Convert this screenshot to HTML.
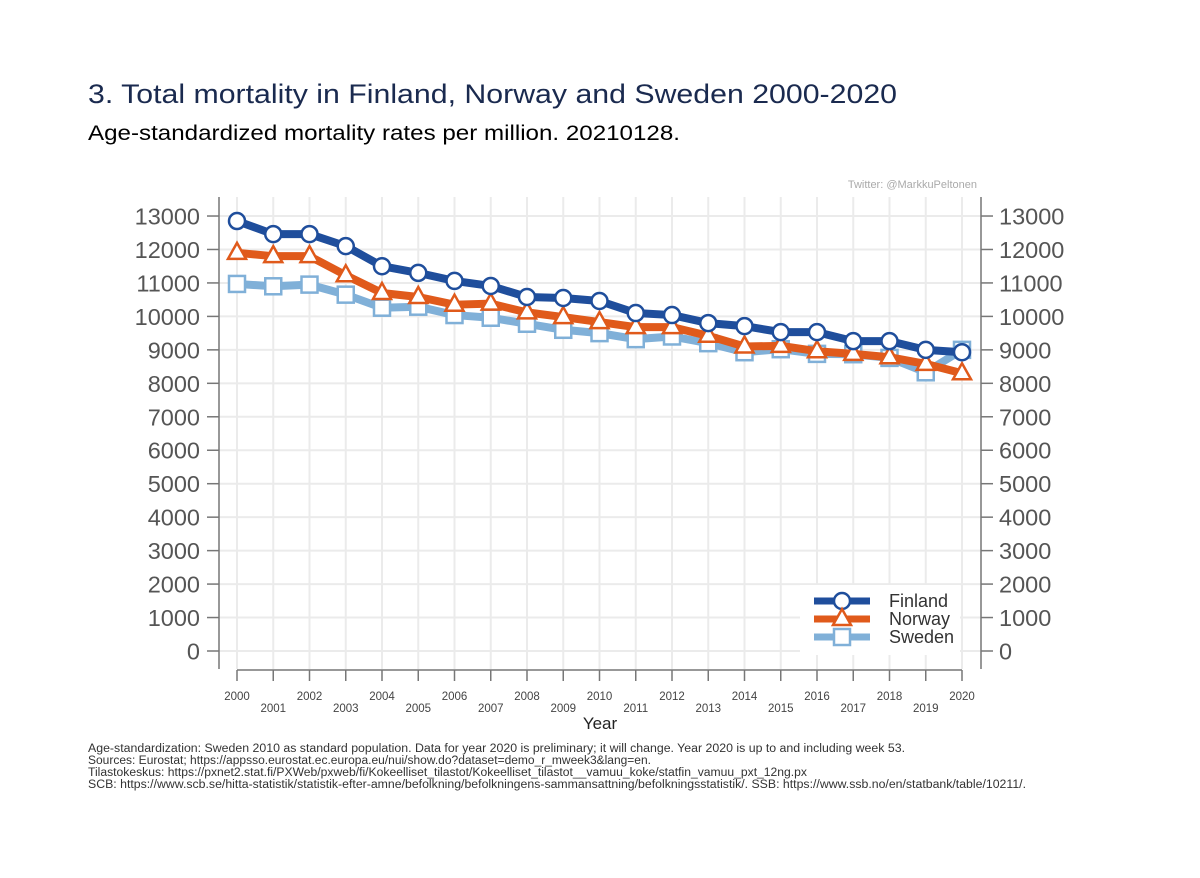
<!DOCTYPE html>
<html><head><meta charset="utf-8"><style>
body{margin:0;background:#fff;width:1200px;height:873px;overflow:hidden;font-family:"Liberation Sans",Arial,sans-serif}
</style></head><body>
<svg id="chart" width="1200" height="873" xmlns="http://www.w3.org/2000/svg" font-family="Liberation Sans, Arial, sans-serif">
<text x="88" y="103" font-size="27" textLength="809" lengthAdjust="spacingAndGlyphs" fill="#1a2a4f">3. Total mortality in Finland, Norway and Sweden 2000-2020</text>
<text x="88" y="140" font-size="21" textLength="592" lengthAdjust="spacingAndGlyphs" fill="#000">Age-standardized mortality rates per million. 20210128.</text>
<text x="977" y="188" font-size="11" fill="#aaa" text-anchor="end">Twitter: @MarkkuPeltonen</text>
<g id="grid"></g><g id="axes"></g><g id="series"></g>
<g id="legend"></g>
<text x="600" y="729" font-size="17" fill="#222" text-anchor="middle">Year</text>
<g font-size="11.5" fill="#333">
<text x="88" y="752" textLength="817" lengthAdjust="spacingAndGlyphs">Age-standardization: Sweden 2010 as standard population. Data for year 2020 is preliminary; it will change. Year 2020 is up to and including week 53.</text>
<text x="88" y="764" textLength="563" lengthAdjust="spacingAndGlyphs">Sources: Eurostat; https://appsso.eurostat.ec.europa.eu/nui/show.do?dataset=demo_r_mweek3&amp;lang=en.</text>
<text x="88" y="776" textLength="719" lengthAdjust="spacingAndGlyphs">Tilastokeskus: https://pxnet2.stat.fi/PXWeb/pxweb/fi/Kokeelliset_tilastot/Kokeelliset_tilastot__vamuu_koke/statfin_vamuu_pxt_12ng.px</text>
<text x="88" y="788" textLength="938" lengthAdjust="spacingAndGlyphs">SCB: https://www.scb.se/hitta-statistik/statistik-efter-amne/befolkning/befolkningens-sammansattning/befolkningsstatistik/. SSB: https://www.ssb.no/en/statbank/table/10211/.</text>
</g>
</svg>
<script>
const years=[2000,2001,2002,2003,2004,2005,2006,2007,2008,2009,2010,2011,2012,2013,2014,2015,2016,2017,2018,2019,2020];
const finland=[12850,12460,12460,12100,11500,11300,11060,10910,10580,10550,10460,10100,10040,9800,9710,9530,9530,9260,9260,9000,8930];
const norway=[11900,11800,11800,11230,10700,10580,10350,10380,10120,9980,9830,9680,9680,9420,9100,9120,8960,8880,8780,8580,8300];
const sweden=[10970,10900,10950,10650,10260,10290,10040,9960,9780,9600,9500,9320,9400,9200,8930,9020,8880,8870,8760,8330,9000];
const yTicks=[0,1000,2000,3000,4000,5000,6000,7000,8000,9000,10000,11000,12000,13000];
const NS='http://www.w3.org/2000/svg';
const X=y=>237+(y-2000)*36.25;
const Y=v=>651-v*0.03346;
function mk(p,t,a){const e=document.createElementNS(NS,t);for(const k in a)e.setAttribute(k,a[k]);p.appendChild(e);return e;}
const g=document.getElementById('grid'),ax=document.getElementById('axes'),s=document.getElementById('series'),lg=document.getElementById('legend');
yTicks.forEach(v=>{
 const l=mk(g,'line',{x1:219,x2:981,y1:Y(v),y2:Y(v),stroke:'#ebebeb','stroke-width':2});
 
 mk(ax,'line',{x1:207,x2:219,y1:Y(v),y2:Y(v),stroke:'#777','stroke-width':1.5});
 mk(ax,'line',{x1:981,x2:993,y1:Y(v),y2:Y(v),stroke:'#777','stroke-width':1.5});
 const t1=mk(ax,'text',{x:200,y:Y(v)+8.5,'font-size':23.5,fill:'#555','text-anchor':'end'});t1.textContent=v;
 
 const t2=mk(ax,'text',{x:999,y:Y(v)+8.5,'font-size':23.5,fill:'#555'});t2.textContent=v;
 
});
years.forEach((y,i)=>{
 const l=mk(g,'line',{x1:X(y),x2:X(y),y1:197,y2:669,stroke:'#ebebeb','stroke-width':2});
 
 mk(ax,'line',{x1:X(y),x2:X(y),y1:670,y2:681,stroke:'#777','stroke-width':1.5});
 const t=mk(ax,'text',{x:X(y),y:i%2?712:700,'font-size':11.5,fill:'#444','text-anchor':'middle'});t.textContent=y;
 
});
mk(ax,'line',{x1:219,x2:219,y1:197,y2:669,stroke:'#777','stroke-width':1.5});
mk(ax,'line',{x1:981,x2:981,y1:197,y2:669,stroke:'#777','stroke-width':1.5});
mk(ax,'line',{x1:237,x2:962,y1:670,y2:670,stroke:'#777','stroke-width':1.5});
function marker(p,type,x,y,c){
 if(type==='c')return mk(p,'circle',{cx:x,cy:y,r:8,fill:'#fff',stroke:c,'stroke-width':2.5});
 if(type==='t')return mk(p,'polygon',{points:`${x},${y-10} ${x+9},${y+6} ${x-9},${y+6}`,fill:'#fff',stroke:c,'stroke-width':2.5});
 return mk(p,'rect',{x:x-8,y:y-8,width:16,height:16,fill:'#fff',stroke:c,'stroke-width':2.5});
}
const defs=[['finland',finland,'#1f4e9c','c'],['norway',norway,'#e05a1b','t'],['sweden',sweden,'#80b0d8','s']];
[...defs].reverse().forEach(([n,d,c,m])=>{
 const grp=mk(s,'g',{});
 const pl=mk(grp,'polyline',{points:d.map((v,i)=>X(years[i])+','+Y(v)).join(' '),fill:'none',stroke:c,'stroke-width':8,'stroke-linejoin':'round'});
 
 d.forEach((v,i)=>{const e=marker(grp,m,X(years[i]),Y(v),c);
  });
});
const bg=mk(lg,'rect',{x:800,y:585,width:160,height:70,fill:'#fff'});

defs.forEach(([n,d,c,m],i)=>{
 const yy=601+i*18;
 const e=mk(lg,'g',{});
 mk(e,'line',{x1:814,x2:870,y1:yy,y2:yy,stroke:c,'stroke-width':7});
 marker(e,m,842,yy,c);
 const t=mk(e,'text',{x:889,y:yy+6,'font-size':18,fill:'#333'});t.textContent=n[0].toUpperCase()+n.slice(1);
});
</script>
</body></html>
